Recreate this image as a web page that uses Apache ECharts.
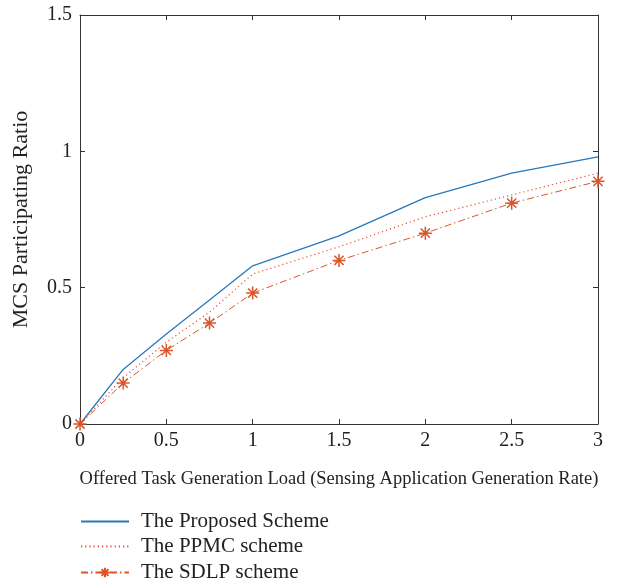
<!DOCTYPE html>
<html><head><meta charset="utf-8">
<script src="https://cdn.jsdelivr.net/npm/echarts@6/dist/echarts.min.js"></script>
<style>html,body{margin:0;padding:0;background:#fff}#c{width:617px;height:586px}</style>
</head><body><div id="c"></div>
<script>
const xValues = [0, 0.25, 0.5, 0.75, 1, 1.5, 2, 2.5, 3];
const proposed = [0, 0.20, 0.33, 0.455, 0.58, 0.69, 0.83, 0.92, 0.98];
const ppmc = [0, 0.17, 0.30, 0.41, 0.55, 0.65, 0.76, 0.84, 0.92];
const sdlp = [0, 0.15, 0.27, 0.37, 0.48, 0.60, 0.70, 0.81, 0.89];
const seriesNames = ['The Proposed Scheme', 'The PPMC scheme', 'The SDLP scheme'];
const xTitle = 'Offered Task Generation Load (Sensing Application Generation Rate)';
const yTitle = 'MCS Participating Ratio';

const pair = (ys) => xValues.map((x, i) => [x, ys[i]]);
const font = 'Liberation Serif';
const axisCol = '#333';
const star = 'path://M0,-10L0,10M-10,0L10,0M-7.07,-7.07L7.07,7.07M-7.07,7.07L7.07,-7.07';

const chart = echarts.init(document.getElementById('c'), null, {renderer: 'canvas'});
const baseAxis = {
  min: 0, interval: 0.5,
  axisLine: {show: true, onZero: false, lineStyle: {color: axisCol, width: 1}},
  axisTick: {show: true, inside: true, length: 5, lineStyle: {color: axisCol}},
  splitLine: {show: false}
};
const legendTops = [511, 536, 562];
const legends = seriesNames.map((n, i) => ({
  orient: 'vertical', left: 80, top: legendTops[i], itemWidth: 48, itemHeight: 12,
  padding: 0,
  textStyle: {fontFamily: font, fontSize: 21, lineHeight: 20, color: '#222', padding: [0, 0, 0, 7]},
  data: [n]
}));
chart.setOption({
  animation: false,
  grid: {left: 80, right: 19, top: 15, bottom: 162, containLabel: false},
  xAxis: [
    Object.assign({}, baseAxis, {type: 'value', max: 3, position: 'bottom',
      axisLabel: {fontFamily: font, fontSize: 20, color: '#222', margin: 7},
      name: xTitle, nameLocation: 'middle', nameGap: 46,
      nameTextStyle: {fontFamily: font, fontSize: 18.5, color: '#222'}}),
    Object.assign({}, baseAxis, {type: 'value', max: 3, position: 'top', axisLabel: {show: false}})
  ],
  yAxis: [
    Object.assign({}, baseAxis, {type: 'value', max: 1.5, position: 'left',
      axisLabel: {fontFamily: font, fontSize: 20, color: '#222', margin: 8},
      name: yTitle, nameLocation: 'middle', nameGap: 48,
      nameTextStyle: {fontFamily: font, fontSize: 22, color: '#222'}}),
    Object.assign({}, baseAxis, {type: 'value', max: 1.5, position: 'right', axisLabel: {show: false}})
  ],
  legend: legends,
  series: [
    {name: seriesNames[0], type: 'line', data: pair(proposed), symbol: 'circle', showSymbol: false,
      lineStyle: {color: '#2878bd', width: 1.3, type: 'solid'}, itemStyle: {color: 'rgba(0,0,0,0)'}},
    {name: seriesNames[1], type: 'line', data: pair(ppmc), symbol: 'circle', showSymbol: false,
      lineStyle: {color: '#e0503a', width: 1.2, type: [1.2, 3]}, itemStyle: {color: 'rgba(0,0,0,0)'}},
    {name: seriesNames[2], type: 'line', data: pair(sdlp), symbol: star, symbolSize: 13,
      lineStyle: {color: '#d9552a', width: 1, type: [7, 3, 1.5, 3]},
      itemStyle: {color: 'rgba(0,0,0,0)', borderColor: '#d9552a', borderWidth: 1.5}}
  ]
});
</script></body></html>
